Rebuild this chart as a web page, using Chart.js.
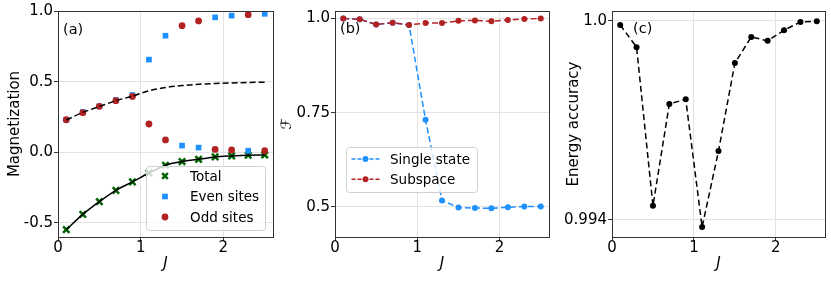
<!DOCTYPE html>
<html>
<head>
<meta charset="utf-8">
<script src="https://cdn.jsdelivr.net/npm/chart.js@4.4.0/dist/chart.umd.min.js"></script>
<style>
  html, body { margin: 0; padding: 0; background: #fff; }
  #wrap { position: relative; width: 831px; height: 281px; overflow: hidden; }
  canvas { position: absolute; top: 0; }
</style>
</head>
<body>
<div id="wrap">
  <canvas id="ca" width="280" height="281" style="left:0px"></canvas>
  <canvas id="cb" width="282" height="281" style="left:276px"></canvas>
  <canvas id="cc" width="273" height="281" style="left:558px"></canvas>
</div>
<script>
// coupling values (shared x)
var J = [0.1, 0.3, 0.5, 0.7, 0.9, 1.1, 1.3, 1.5, 1.7, 1.9, 2.1, 2.3, 2.5];

// (a) magnetization
var magTotal  = [-0.548, -0.44, -0.35, -0.27, -0.21, -0.147, -0.092, -0.066, -0.05, -0.033, -0.026, -0.021, -0.019];
var magEven   = [0.23, 0.285, 0.325, 0.37, 0.405, 0.656, 0.825, 0.047, 0.033, 0.955, 0.967, 0.011, 0.98];
var magOdd    = [0.23, 0.28, 0.325, 0.365, 0.395, 0.2, 0.087, 0.896, 0.93, 0.02, 0.016, 0.974, 0.011];
var magDashed = [0.228, 0.282, 0.324, 0.365, 0.397, 0.435, 0.458, 0.472, 0.481, 0.487, 0.491, 0.494, 0.496];

// (b) fidelity
var fidSingle   = [1.0, 0.998, 0.984, 0.989, 0.983, 0.731, 0.517, 0.498, 0.497, 0.496, 0.499, 0.501, 0.501];
var fidSubspace = [1.0, 0.998, 0.984, 0.989, 0.983, 0.988, 0.988, 0.994, 0.995, 0.993, 0.996, 0.999, 1.0];

// (c) energy accuracy
var energyAcc = [0.99987, 0.99920, 0.99442, 0.99749, 0.99763, 0.99378, 0.99607, 0.99872, 0.99951, 0.99939, 0.99971, 0.99996, 0.99998];

// ticks
var xTicks = [0, 1, 2];
var xTickLabels = ['0', '1', '2'];
var magTicks = [-0.5, 0, 0.5, 1.0];
var magTickLabels = ['-0.5', '0.0', '0.5', '1.0'];
var fidTicks = [0.5, 0.75, 1.0];
var fidTickLabels = ['0.5', '0.75', '1.0'];
var energyTicks = [0.994, 1.0];
var energyTickLabels = ['0.994', '1.0'];

var FONT = 'DejaVu Sans';
var BLUE = '#1e90ff', RED = '#b22222', GREEN = '#006400';

function pts(xs, ys) {
  return xs.map(function(x, i) { return { x: x, y: ys[i] }; });
}

// box around plot, panel tag and in-axes legend
var panelDeco = {
  id: 'panelDeco',
  afterDatasetsDraw: function(chart, args, opts) {
    var ctx = chart.ctx;
    var lg = opts.legend;
    if (!lg) return;
    ctx.save();
    ctx.beginPath();
    ctx.roundRect(lg.x + 0.5, lg.y + 0.5, lg.w, lg.h, 3);
    ctx.fillStyle = 'rgba(255,255,255,0.8)';
    ctx.fill();
    ctx.strokeStyle = '#d0d0d0';
    ctx.lineWidth = 1;
    ctx.stroke();
    ctx.font = '13.5px ' + FONT;
    ctx.textBaseline = 'middle';
    lg.items.forEach(function(it, i) {
      var y = lg.rowY + i * lg.rowH;
      ctx.strokeStyle = it.color;
      ctx.fillStyle = it.color;
      if (it.line) {
        ctx.lineWidth = 1.5;
        ctx.setLineDash([4, 2]);
        ctx.beginPath();
        ctx.moveTo(lg.mx - 14, y);
        ctx.lineTo(lg.mx + 14, y);
        ctx.stroke();
        ctx.setLineDash([]);
      }
      ctx.lineWidth = it.bw || 0;
      Chart.helpers.drawPoint(ctx, { pointStyle: it.style, radius: it.r, rotation: 0, borderWidth: it.bw || 0 }, lg.mx, y);
      ctx.fillStyle = '#000';
      ctx.fillText(it.label, lg.tx, y + 1);
    });
    ctx.restore();
  },
  afterDraw: function(chart, args, opts) {
    var ctx = chart.ctx, a = chart.chartArea;
    ctx.save();
    ctx.strokeStyle = '#333';
    ctx.lineWidth = 1;
    ctx.strokeRect(Math.round(a.left) + 0.5, Math.round(a.top) + 0.5, Math.round(a.right - a.left), Math.round(a.bottom - a.top));
    if (opts.tag) {
      ctx.fillStyle = '#000';
      ctx.font = '14.5px ' + FONT;
      ctx.textBaseline = 'middle';
      ctx.fillText(opts.tag, opts.tagX, opts.tagY);
    }
    ctx.restore();
  }
};

function makeScales(yMin, yMax, yTicks, yLabels, yTitle, yWidth, yTitleFont) {
  return {
    x: {
      type: 'linear', min: 0, max: 2.6,
      afterBuildTicks: function(s) { s.ticks = xTicks.map(function(v) { return { value: v }; }); },
      afterFit: function(s) { s.height = 40; },
      ticks: {
        font: { family: FONT, size: 15, lineHeight: 1 }, color: '#000', padding: 0, maxRotation: 0,
        callback: function(v, i) { return xTickLabels[i]; }
      },
      grid: { color: '#e2e2e2', tickColor: '#333', tickLength: 4 },
      border: { color: '#333' },
      title: { display: true, text: 'J', font: { family: FONT, size: 15, style: 'italic' }, color: '#000' }
    },
    y: {
      type: 'linear', min: yMin, max: yMax,
      afterBuildTicks: function(s) { s.ticks = yTicks.map(function(v) { return { value: v }; }); },
      afterFit: function(s) { s.width = yWidth; },
      ticks: {
        font: { family: FONT, size: 15, lineHeight: 1 }, color: '#000', padding: 1,
        callback: function(v, i) { return yLabels[i]; }
      },
      grid: { color: '#e2e2e2', tickColor: '#333', tickLength: 4 },
      border: { color: '#333' },
      title: { display: true, text: yTitle, font: yTitleFont, color: '#000' }
    }
  };
}

var baseOpts = function(pad, scales, deco) {
  return {
    responsive: false,
    animation: false,
    devicePixelRatio: 1,
    layout: { padding: pad },
    scales: scales,
    plugins: { legend: { display: false }, tooltip: { enabled: false }, panelDeco: deco }
  };
};

// (a)
new Chart(document.getElementById('ca'), {
  type: 'scatter',
  data: {
    datasets: [
      { data: pts(J, magTotal), showLine: true, borderColor: '#000', borderWidth: 1.5, pointRadius: 0,
        cubicInterpolationMode: 'monotone', order: 0 },
      { data: pts(J, magDashed), showLine: true, borderColor: '#000', borderWidth: 1.5, borderDash: [6, 3],
        pointRadius: 0, cubicInterpolationMode: 'monotone', order: 0 },
      { data: pts(J, magTotal), pointStyle: 'crossRot', pointRadius: 4.5, borderWidth: 2.5,
        borderColor: GREEN, backgroundColor: GREEN, order: 3 },
      { data: pts(J, magEven), pointStyle: 'rect', pointRadius: 4, borderWidth: 0,
        backgroundColor: BLUE, borderColor: BLUE, order: 2 },
      { data: pts(J, magOdd), pointStyle: 'circle', pointRadius: 3.4, borderWidth: 0,
        backgroundColor: RED, borderColor: RED, order: 1 }
    ]
  },
  options: baseOpts({ left: 2, right: 7, top: 11, bottom: 4 },
    makeScales(-0.6, 1.0, magTicks, magTickLabels, 'Magnetization', 56, { family: FONT, size: 15 }),
    { tag: '(a)', tagX: 63, tagY: 30,
      legend: { x: 146, y: 166, w: 119, h: 64, rowY: 176, rowH: 20.5, mx: 165, tx: 190,
        items: [
          { label: 'Total', color: GREEN, style: 'crossRot', r: 4, bw: 2.5 },
          { label: 'Even sites', color: BLUE, style: 'rect', r: 4 },
          { label: 'Odd sites', color: RED, style: 'circle', r: 3.4 }
        ] } })
  ,
  plugins: [panelDeco]
});

// (b)
new Chart(document.getElementById('cb'), {
  type: 'scatter',
  data: {
    datasets: [
      { data: pts(J, fidSubspace), showLine: true, borderColor: RED, backgroundColor: RED, borderWidth: 1.5,
        borderDash: [6, 3], pointRadius: 3, pointBorderWidth: 0, order: 0 },
      { data: pts(J, fidSingle), showLine: true, borderColor: BLUE, backgroundColor: BLUE, borderWidth: 1.5,
        borderDash: [6, 3], pointRadius: 3, pointBorderWidth: 0, order: 1 }
    ]
  },
  options: baseOpts({ left: 0, right: 9, top: 11, bottom: 4 },
    makeScales(0.42, 1.02, fidTicks, fidTickLabels, '\u2131', 59, { family: FONT, size: 14, lineHeight: 1 }),
    { tag: '(b)', tagX: 64, tagY: 29,
      legend: { x: 70, y: 147, w: 131, h: 45, rowY: 159, rowH: 20.3, mx: 89.5, tx: 114,
        items: [
          { label: 'Single state', color: BLUE, style: 'circle', r: 3, line: true },
          { label: 'Subspace', color: RED, style: 'circle', r: 3, line: true }
        ] } }),
  plugins: [panelDeco]
});

// (c)
new Chart(document.getElementById('cc'), {
  type: 'scatter',
  data: {
    datasets: [
      { data: pts(J, energyAcc), showLine: true, borderColor: '#000', backgroundColor: '#000', borderWidth: 1.5,
        borderDash: [6, 3.5], pointRadius: 3, pointBorderWidth: 0 }
    ]
  },
  options: baseOpts({ left: 3, right: 6, top: 11, bottom: 4 },
    makeScales(0.99348, 1.00029, energyTicks, energyTickLabels, 'Energy accuracy', 51, { family: FONT, size: 15 }),
    { tag: '(c)', tagX: 75, tagY: 29 }),
  plugins: [panelDeco]
});
</script>
</body>
</html>
